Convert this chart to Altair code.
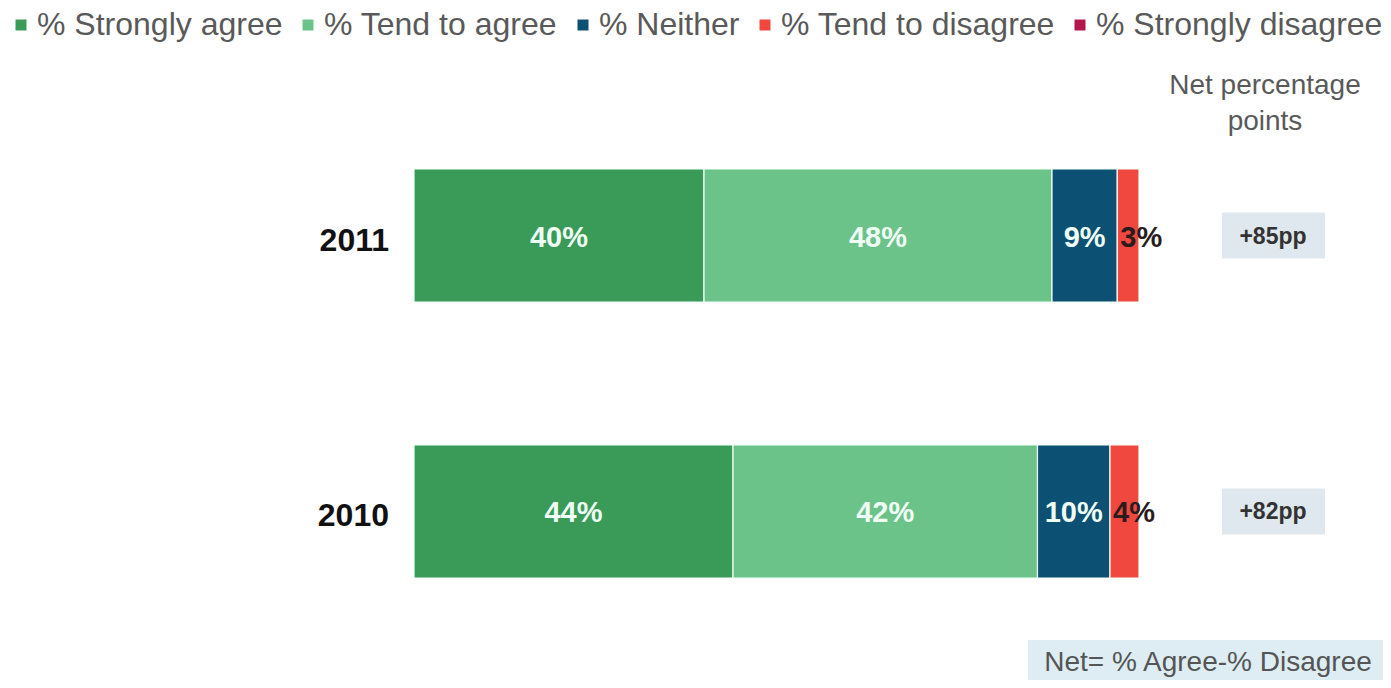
import altair as alt
import pandas as pd

# ---- data ----
years = ["2011", "2010"]
categories = ["% Strongly agree", "% Tend to agree", "% Neither",
              "% Tend to disagree", "% Strongly disagree"]
values_2011 = [40, 48, 9, 3, 0]
values_2010 = [44, 42, 10, 4, 0]
net_labels = ["+85pp", "+82pp"]
colors = ["#3a9a58", "#6cc38a", "#0c5073", "#f0473f", "#b2174b"]

# ---- build table ----
rows = []
for yr, vals in zip(years, [values_2011, values_2010]):
    start = 0
    for i, (cat, v) in enumerate(zip(categories, vals)):
        rows.append({"year": yr, "cat": cat, "order": i, "value": v,
                     "start": start, "end": start + v,
                     "mid": start + v / 2, "label": f"{v}%"})
        start += v
df = pd.DataFrame(rows)
bars_df = df[df["value"] > 0]
inner_df = bars_df[bars_df["order"] <= 2]
outer_df = bars_df[bars_df["order"] == 3]
net_df = pd.DataFrame({"year": years, "net": net_labels})
one = pd.DataFrame({"k": [0]})

FONT = "Liberation Sans"

xscale = alt.Scale(domain=[0, 100], range=[406, 1131])
yscale = alt.Scale(domain=years, range=[161, 570], paddingInner=0.518, paddingOuter=0)

bars = alt.Chart(bars_df).mark_bar(stroke="#f4fff8", strokeWidth=1.2).encode(
    x=alt.X("start:Q", scale=xscale, axis=None),
    x2="end:Q",
    y=alt.Y("year:N", scale=yscale, axis=None),
    color=alt.Color(
        "cat:N",
        scale=alt.Scale(domain=categories, range=colors),
        legend=alt.Legend(
            title=None, orient="none", direction="horizontal", columns=5,
            legendX=7, legendY=1, padding=0,
            symbolType="square", symbolSize=121, symbolStrokeWidth=0,
            symbolOpacity=1, symbolOffset=-10,
            labelFont=FONT, labelFontSize=32, labelColor="#595959",
            labelOffset=0, columnPadding=19, labelLimit=600,
        ),
    ),
    order="order:Q",
)

inner_text = alt.Chart(inner_df).mark_text(
    font=FONT, fontSize=29, fontWeight="bold", color="#f0fff5", dy=2
).encode(
    x=alt.X("mid:Q", scale=xscale),
    y=alt.Y("year:N", scale=yscale),
    text="label:N",
)

outer_text = alt.Chart(outer_df).mark_text(
    font=FONT, fontSize=29, fontWeight="bold", color="#2a1c1c",
    align="left", dx=3, dy=2
).encode(
    x=alt.X("start:Q", scale=xscale),
    y=alt.Y("year:N", scale=yscale),
    text="label:N",
)

year_text = alt.Chart(net_df).mark_text(
    font=FONT, fontSize=32, fontWeight="bold", color="#111111",
    align="right", dy=5
).encode(
    x=alt.value(381),
    y=alt.Y("year:N", scale=yscale),
    text="year:N",
)

net_box = alt.Chart(net_df).mark_bar(size=46, color="#dfe8ee").encode(
    x=alt.value(1214),
    x2=alt.value(1317),
    y=alt.Y("year:N", scale=yscale),
)

net_text = alt.Chart(net_df).mark_text(
    font=FONT, fontSize=23, fontWeight="bold", color="#333333", dy=1
).encode(
    x=alt.value(1265),
    y=alt.Y("year:N", scale=yscale),
    text="net:N",
)

net_title = alt.Chart(one).mark_text(
    text=["Net percentage", "points"], font=FONT, fontSize=28,
    color="#595959", lineHeight=36, align="center", baseline="middle"
).encode(x=alt.value(1257), y=alt.value(78))

note_box = alt.Chart(one).mark_rect(color="#deedf4").encode(
    x=alt.value(1020), x2=alt.value(1375), y=alt.value(632), y2=alt.value(672)
)
note_text = alt.Chart(one).mark_text(
    text="Net= % Agree-% Disagree", font=FONT, fontSize=28, color="#555555",
    align="center", baseline="middle"
).encode(x=alt.value(1200), y=alt.value(655))

chart = alt.layer(
    bars, inner_text, outer_text, year_text, net_box, net_text, net_title,
    note_box, note_text
).properties(
    width=1375, height=672, padding=0,
    autosize=alt.AutoSizeParams(type="none"),
    background="white",
).configure_view(stroke=None)

chart.save("out.html", embed_options={"renderer": "svg", "actions": False})
